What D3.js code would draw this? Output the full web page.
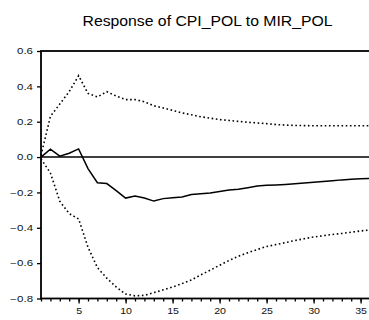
<!DOCTYPE html>
<html>
<head>
<meta charset="utf-8">
<script src="https://cdn.jsdelivr.net/npm/d3@7"></script>
<style>
  html, body { margin: 0; padding: 0; background: #fff; }
  svg { display: block; }
</style>
</head>
<body>
<svg id="area" width="369" height="320"></svg>
<script>
const title = 'Response of CPI_POL to MIR_POL';

const periods = d3.range(1, 37);

const response = [
  0.0, 0.045, 0.005, 0.022, 0.046, -0.065, -0.145, -0.15, -0.19, -0.232,
  -0.22, -0.232, -0.249, -0.235, -0.23, -0.226, -0.212, -0.208, -0.203, -0.195,
  -0.186, -0.182, -0.173, -0.163, -0.16, -0.158, -0.155, -0.151, -0.147, -0.142,
  -0.138, -0.134, -0.129, -0.126, -0.123, -0.121
];

const upper = [
  0.01, 0.23, 0.3, 0.37, 0.46, 0.36, 0.34, 0.37, 0.345, 0.325,
  0.325, 0.313, 0.29, 0.278, 0.264, 0.25, 0.239, 0.228, 0.22, 0.212,
  0.207, 0.202, 0.197, 0.193, 0.189, 0.184, 0.181, 0.179, 0.178, 0.177,
  0.177, 0.177, 0.177, 0.177, 0.177, 0.177
];

const lower = [
  -0.01, -0.09, -0.25, -0.32, -0.35, -0.51, -0.625, -0.685, -0.735, -0.775,
  -0.785, -0.782, -0.767, -0.751, -0.735, -0.716, -0.695, -0.666, -0.64, -0.612,
  -0.585, -0.561, -0.541, -0.523, -0.506, -0.495, -0.484, -0.472, -0.462, -0.452,
  -0.445, -0.438, -0.432, -0.425, -0.418, -0.412
];

const yTicks = [-0.8, -0.6, -0.4, -0.2, 0.0, 0.2, 0.4, 0.6];
const xMajor = [5, 10, 15, 20, 25, 30, 35];

const svg = d3.select('#area');

const x = d3.scaleLinear([1, 36], [41, 370]);
const y = d3.scaleLinear([-0.8, 0.6], [298.5, 51]);

const font = '"Liberation Sans", Arial, sans-serif';

// title
svg.append('text')
  .attr('x', 207.5)
  .attr('y', 26)
  .attr('text-anchor', 'middle')
  .attr('textLength', 250)
  .attr('lengthAdjust', 'spacingAndGlyphs')
  .style('font', `14px ${font}`)
  .text(title);

// y axis
const yAxis = svg.append('g')
  .attr('transform', `translate(${x(1)},0)`)
  .call(d3.axisLeft(y).tickValues(yTicks).tickSize(4).tickPadding(4)
    .tickFormat(d3.format('.1f')));
yAxis.select('.domain').remove();
yAxis.selectAll('line').attr('stroke', '#000').attr('stroke-width', 1.3);
yAxis.selectAll('text')
  .style('font', `8.5px ${font}`)
  .attr('fill', '#111')
  .attr('lengthAdjust', 'spacingAndGlyphs')
  .attr('textLength', function () { return this.getComputedTextLength() * 1.35; });

// x axis, minor ticks
const xMinor = svg.append('g')
  .attr('transform', `translate(0,${y(-0.8)})`)
  .call(d3.axisBottom(x).tickValues(periods).tickSize(3).tickFormat(''));
xMinor.select('.domain').remove();
xMinor.selectAll('line').attr('stroke', '#000').attr('stroke-width', 1.3);

// x axis, major ticks
const xAxis = svg.append('g')
  .attr('transform', `translate(0,${y(-0.8)})`)
  .call(d3.axisBottom(x).tickValues(xMajor).tickSize(5).tickPadding(4)
    .tickFormat(d3.format('d')));
xAxis.select('.domain').remove();
xAxis.selectAll('line').attr('stroke', '#000').attr('stroke-width', 1.3);
xAxis.selectAll('text')
  .style('font', `8.5px ${font}`)
  .attr('fill', '#111')
  .attr('lengthAdjust', 'spacingAndGlyphs')
  .attr('textLength', function () { return this.getComputedTextLength() * 1.25; });

// frame
svg.append('rect')
  .attr('x', x(1))
  .attr('y', y(0.6))
  .attr('width', x(36) - x(1))
  .attr('height', y(-0.8) - y(0.6))
  .attr('fill', 'none')
  .attr('stroke', '#000')
  .attr('stroke-width', 1.8);

// zero line
svg.append('line')
  .attr('x1', x(1))
  .attr('x2', x(36))
  .attr('y1', y(0))
  .attr('y2', y(0))
  .attr('stroke', '#000')
  .attr('stroke-width', 1.5);

const line = d3.line()
  .x((d, i) => x(periods[i]))
  .y((d) => y(d));

// bands
svg.append('g')
  .selectAll('path')
  .data([upper, lower])
  .join('path')
  .attr('d', line)
  .attr('fill', 'none')
  .attr('stroke', '#000')
  .attr('stroke-width', 1.6)
  .attr('stroke-dasharray', '1.6,2.6');

// response
svg.append('path')
  .attr('d', line(response))
  .attr('fill', 'none')
  .attr('stroke', '#000')
  .attr('stroke-width', 1.5);
</script>
</body>
</html>
